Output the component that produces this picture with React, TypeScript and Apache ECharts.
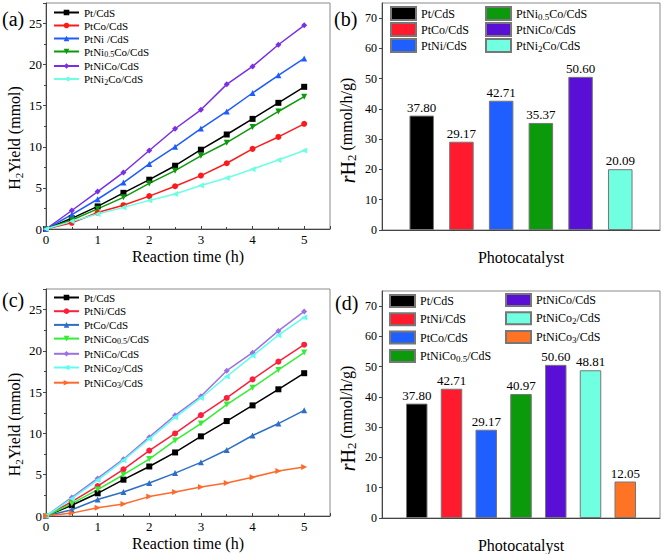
import React, { useEffect, useRef } from 'react';
import * as echarts from 'echarts';

const FONT = "'Liberation Serif', 'Times New Roman', Times, serif";

// ---------- data ----------
const timeH = [0, 0.5, 1, 1.5, 2, 2.5, 3, 3.5, 4, 4.5, 5];

const ptCdS = [0, 1.3, 2.75, 4.4, 6.0, 7.7, 9.65, 11.5, 13.4, 15.35, 17.3];
const ptCoCdS = [0, 0.75, 2.0, 2.9, 4.0, 5.2, 6.5, 8.0, 9.75, 11.2, 12.8];
const ptNiCdS = [0, 1.75, 3.62, 5.65, 7.92, 10.0, 12.22, 14.3, 16.55, 18.7, 20.75];
const ptNi05CoCdS = [0, 1.1, 2.45, 3.85, 5.55, 7.1, 8.9, 10.5, 12.4, 14.3, 16.1];
const ptNiCoCdS = [0, 2.25, 4.55, 6.88, 9.55, 12.2, 14.5, 17.6, 19.78, 22.42, 24.78];
const ptNi2CoCdS = [0, 0.93, 1.82, 2.63, 3.48, 4.25, 5.3, 6.2, 7.28, 8.4, 9.55];
const ptNiCo05CdS = [0, 1.5, 3.2, 5.0, 6.9, 9.15, 11.2, 13.5, 15.55, 17.7, 19.8];
const ptNiCo2CdS = [0, 2.1, 4.35, 6.75, 9.35, 11.95, 14.3, 16.9, 19.4, 21.9, 24.05];
const ptNiCo3CdS = [0, 0.35, 1.0, 1.45, 2.35, 2.9, 3.5, 4.0, 4.7, 5.45, 5.95];

const namesA = ['Pt/CdS', 'PtCo/CdS', 'PtNi /CdS', 'PtNi0.5Co/CdS', 'PtNiCo/CdS', 'PtNi2Co/CdS'];
const valuesA = [ptCdS, ptCoCdS, ptNiCdS, ptNi05CoCdS, ptNiCoCdS, ptNi2CoCdS];

const namesC = ['Pt/CdS', 'PtNi/CdS', 'PtCo/CdS', 'PtNiCo0.5/CdS', 'PtNiCo/CdS', 'PtNiCo2/CdS', 'PtNiCo3/CdS'];
const valuesC = [ptCdS, ptNiCdS, ptCoCdS, ptNiCo05CdS, ptNiCoCdS, ptNiCo2CdS, ptNiCo3CdS];

const namesB = ['Pt/CdS', 'PtCo/CdS', 'PtNi/CdS', 'PtNi0.5Co/CdS', 'PtNiCo/CdS', 'PtNi2Co/CdS'];
const ratesB = [37.8, 29.17, 42.71, 35.37, 50.6, 20.09];

const namesD = ['Pt/CdS', 'PtNi/CdS', 'PtCo/CdS', 'PtNiCo0.5/CdS', 'PtNiCo/CdS', 'PtNiCo2/CdS', 'PtNiCo3/CdS'];
const ratesD = [37.8, 42.71, 29.17, 40.97, 50.6, 48.81, 12.05];

const xTicksLine = [0, 1, 2, 3, 4, 5];
const yTicksLine = [0, 5, 10, 15, 20, 25];
const yTicksBar = [0, 10, 20, 30, 40, 50, 60, 70];

// ---------- styles ----------
const colorsA = ['#000000', '#ff1a1a', '#1f5cff', '#0a9a0a', '#7a2ee6', '#6cffe2'];
const colorsC = ['#000000', '#ff1f3d', '#2e6fc6', '#33ee33', '#9b72e6', '#5cffee', '#ff6a2a'];
const colorsB = ['#000000', '#ff1a2e', '#1f5fff', '#0b9a0b', '#5a0fd6', '#70ffe0'];
const colorsD = ['#000000', '#ff1a2e', '#1f5fff', '#0b9a0b', '#5a0fd6', '#70ffe0', '#ff7424'];
const symA = [['rect', 0], ['circle', 0], ['triangle', 0], ['triangle', 180], ['diamond', 0], ['triangle', 90]];
const symC = [['rect', 0], ['circle', 0], ['triangle', 0], ['triangle', 180], ['diamond', 0], ['triangle', 90], ['triangle', -90]];

const SEP = '::';
const label = (n: string) => n.split(SEP)[1];
const toRich = (n: string) => '{n|' + label(n).replace(/(\d+(?:\.\d+)?)/g, '}{s|$1}{n|') + '}';
const legendRich = (fs: number) => ({
  n: { fontSize: fs, fontFamily: FONT, color: '#000', lineHeight: fs + 2 },
  s: { fontSize: Math.round(fs * 0.72), fontFamily: FONT, color: '#000', lineHeight: fs + 3, verticalAlign: 'bottom' },
});

const axisLineStyle = { color: '#444', width: 1 };
const tickLabel = (fs: number) => ({ fontSize: fs, fontFamily: FONT, color: '#000' });

export default function App() {
  const ref = useRef<HTMLDivElement>(null);
  useEffect(() => {
    if (!ref.current) return;
    const chart = echarts.init(ref.current, undefined, { renderer: 'svg' });

    const grids = [
      { left: 46, top: 3, width: 284, height: 226 },
      { left: 382, top: 3, width: 278, height: 227 },
      { left: 46, top: 289, width: 284, height: 227 },
      { left: 382, top: 291, width: 278, height: 227 },
    ].map((g) => ({ ...g, show: true, borderColor: '#8a8a8a', borderWidth: 1, containLabel: false, outerBoundsMode: 'none' }));

    const lineX = (gi: number) => ({
      type: 'value', gridIndex: gi, min: 0, max: 5.5, interval: 1,
      axisLine: { show: true, onZero: false, lineStyle: axisLineStyle },
      axisTick: { show: true, inside: true, length: 3, lineStyle: axisLineStyle },
      minorTick: { show: true, splitNumber: 2, length: 2, lineStyle: axisLineStyle },
      splitLine: { show: false },
      axisLabel: { ...tickLabel(13), margin: 4, showMaxLabel: false,
        formatter: (v: number) => (xTicksLine.includes(v) ? String(v) : '') },
      name: 'Reaction time (h)', nameLocation: 'middle', nameGap: 19,
      nameTextStyle: { fontSize: 16, fontFamily: FONT, color: '#000' },
    });
    const lineY = (gi: number) => ({
      type: 'value', gridIndex: gi, min: 0, max: 27.5, interval: 5,
      axisLine: { show: true, onZero: false, lineStyle: axisLineStyle },
      axisTick: { show: true, inside: false, length: 3, lineStyle: axisLineStyle },
      minorTick: { show: true, splitNumber: 2, length: 2, lineStyle: axisLineStyle },
      splitLine: { show: false },
      axisLabel: { ...tickLabel(13), margin: 4, showMaxLabel: false,
        formatter: (v: number) => (yTicksLine.includes(v) ? String(v) : '') },
      name: '{n|H}{s|2}{n|Yield (mmol)}', nameLocation: 'middle', nameGap: 22,
      nameTextStyle: {
        fontSize: 16, fontFamily: FONT, color: '#000', padding: [0, 44, 0, 0],
        rich: {
          n: { fontSize: 16, fontFamily: FONT, color: '#000', lineHeight: 18, verticalAlign: 'top' },
          s: { fontSize: 11, fontFamily: FONT, color: '#000', lineHeight: 11, padding: [9, 0, 0, 0], verticalAlign: 'bottom' },
        },
      },
    });
    const barX = (gi: number, cats: string[]) => ({
      type: 'category', gridIndex: gi, data: ['', ...cats, ''], boundaryGap: false,
      axisLine: { show: true, lineStyle: axisLineStyle },
      axisTick: { show: false }, axisLabel: { show: false }, splitLine: { show: false },
      name: 'Photocatalyst', nameLocation: 'middle', nameGap: 19,
      nameTextStyle: { fontSize: 16, fontFamily: FONT, color: '#000' },
    });
    const barY = (gi: number) => ({
      type: 'value', gridIndex: gi, min: 0, max: 75, interval: 10,
      axisLine: { show: true, onZero: false, lineStyle: axisLineStyle },
      axisTick: { show: true, inside: false, length: 3, lineStyle: axisLineStyle },
      splitLine: { show: false },
      axisLabel: { ...tickLabel(12), margin: 5, showMaxLabel: false,
        formatter: (v: number) => (yTicksBar.includes(v) ? String(v) : '') },
      name: '{i|r}{h|H}{s|2}{n| (mmol/h/g)}', nameLocation: 'middle', nameGap: 24,
      nameTextStyle: {
        fontSize: 16, fontFamily: FONT, color: '#000', padding: [0, 28, 0, 0],
        rich: {
          i: { fontSize: 20, fontStyle: 'italic', fontFamily: FONT, color: '#000', lineHeight: 20, verticalAlign: 'top' },
          h: { fontSize: 20, fontFamily: FONT, color: '#000', lineHeight: 20, verticalAlign: 'top' },
          n: { fontSize: 16, fontFamily: FONT, color: '#000', lineHeight: 20, verticalAlign: 'top' },
          s: { fontSize: 13, fontFamily: FONT, color: '#000', lineHeight: 13, padding: [10, 0, 0, 0], verticalAlign: 'bottom' },
        },
      },
    });

    const lineSeries = (prefix: string, gi: number, names: string[], vals: number[][], colors: string[], syms: any[]) =>
      names.map((n, k) => ({
        name: prefix + SEP + n, type: 'line', xAxisIndex: gi, yAxisIndex: gi,
        data: timeH.map((t, i) => [t, vals[k][i]]),
        symbol: syms[k][0], symbolRotate: syms[k][1], symbolSize: 6,
        itemStyle: { color: colors[k] }, lineStyle: { color: colors[k], width: 1.5 },
      }));

    const barSeries = (prefix: string, gi: number, names: string[], vals: number[], colors: string[], bw: number) =>
      names.map((n, k) => ({
        name: prefix + SEP + n, type: 'bar', xAxisIndex: gi, yAxisIndex: gi,
        data: ['', ...names, ''].map((c, j) => (j === k + 1 ? vals[k] : '-')),
        barWidth: bw, barGap: '-100%',
        itemStyle: { color: colors[k], borderColor: '#777', borderWidth: 1 },
        label: { show: true, position: 'top', distance: 2, fontSize: 13, fontFamily: FONT, color: '#000',
          formatter: (p: any) => Number(p.value).toFixed(2) },
      }));

    const lineLegend = (prefix: string, names: string[], left: number, top: number, gap: number) => ({
      orient: 'vertical', left, top, padding: 0, itemGap: gap, itemWidth: 25, itemHeight: 7,
      data: names.map((n) => prefix + SEP + n), formatter: toRich,
      textStyle: { fontSize: 11, fontFamily: FONT, color: '#000', rich: legendRich(11) },
    });
    const barLegend = (prefix: string, names: string[], left: number, top: number, ih: number, gap: number) => ({
      orient: 'vertical', left, top, padding: 0, itemGap: gap, itemWidth: 25, itemHeight: ih, icon: 'rect',
      data: names.map((n) => prefix + SEP + n), formatter: toRich,
      textStyle: { fontSize: 12, fontFamily: FONT, color: '#000', rich: legendRich(12) },
    });

    const panelLabel = (t: string, left: number, top: number) => ({
      type: 'text', left, top, style: { text: t, font: `20px ${FONT}`, fill: '#000' },
    });

    chart.setOption({
      animation: false,
      backgroundColor: '#ffffff',
      grid: grids,
      xAxis: [lineX(0), barX(1, namesB), lineX(2), barX(3, namesD)],
      yAxis: [lineY(0), barY(1), lineY(2), barY(3)],
      legend: [
        lineLegend('a', namesA, 53, 7, 2),
        barLegend('b', namesB.slice(0, 3), 390, 6, 13, 1),
        barLegend('b', namesB.slice(3), 485, 6, 13, 1),
        lineLegend('c', namesC, 53, 292, 2.7),
        barLegend('d', namesD.slice(0, 4), 389, 294, 12, 4.3),
        barLegend('d', namesD.slice(4), 505, 293, 12, 4.3),
      ],
      series: [
        ...lineSeries('a', 0, namesA, valuesA, colorsA, symA),
        ...barSeries('b', 1, namesB, ratesB, colorsB, 24.5),
        ...lineSeries('c', 2, namesC, valuesC, colorsC, symC),
        ...barSeries('d', 3, namesD, ratesD, colorsD, 21.5),
      ],
      graphic: [
        panelLabel('(a)', 2, 9),
        panelLabel('(b)', 334, 9),
        panelLabel('(c)', 2, 290),
        panelLabel('(d)', 335, 293),
      ],
    });
    return () => chart.dispose();
  }, []);
  return <div ref={ref} style={{ position: 'absolute', left: 0, top: 0, width: 664, height: 554, background: '#fff' }} />;
}
